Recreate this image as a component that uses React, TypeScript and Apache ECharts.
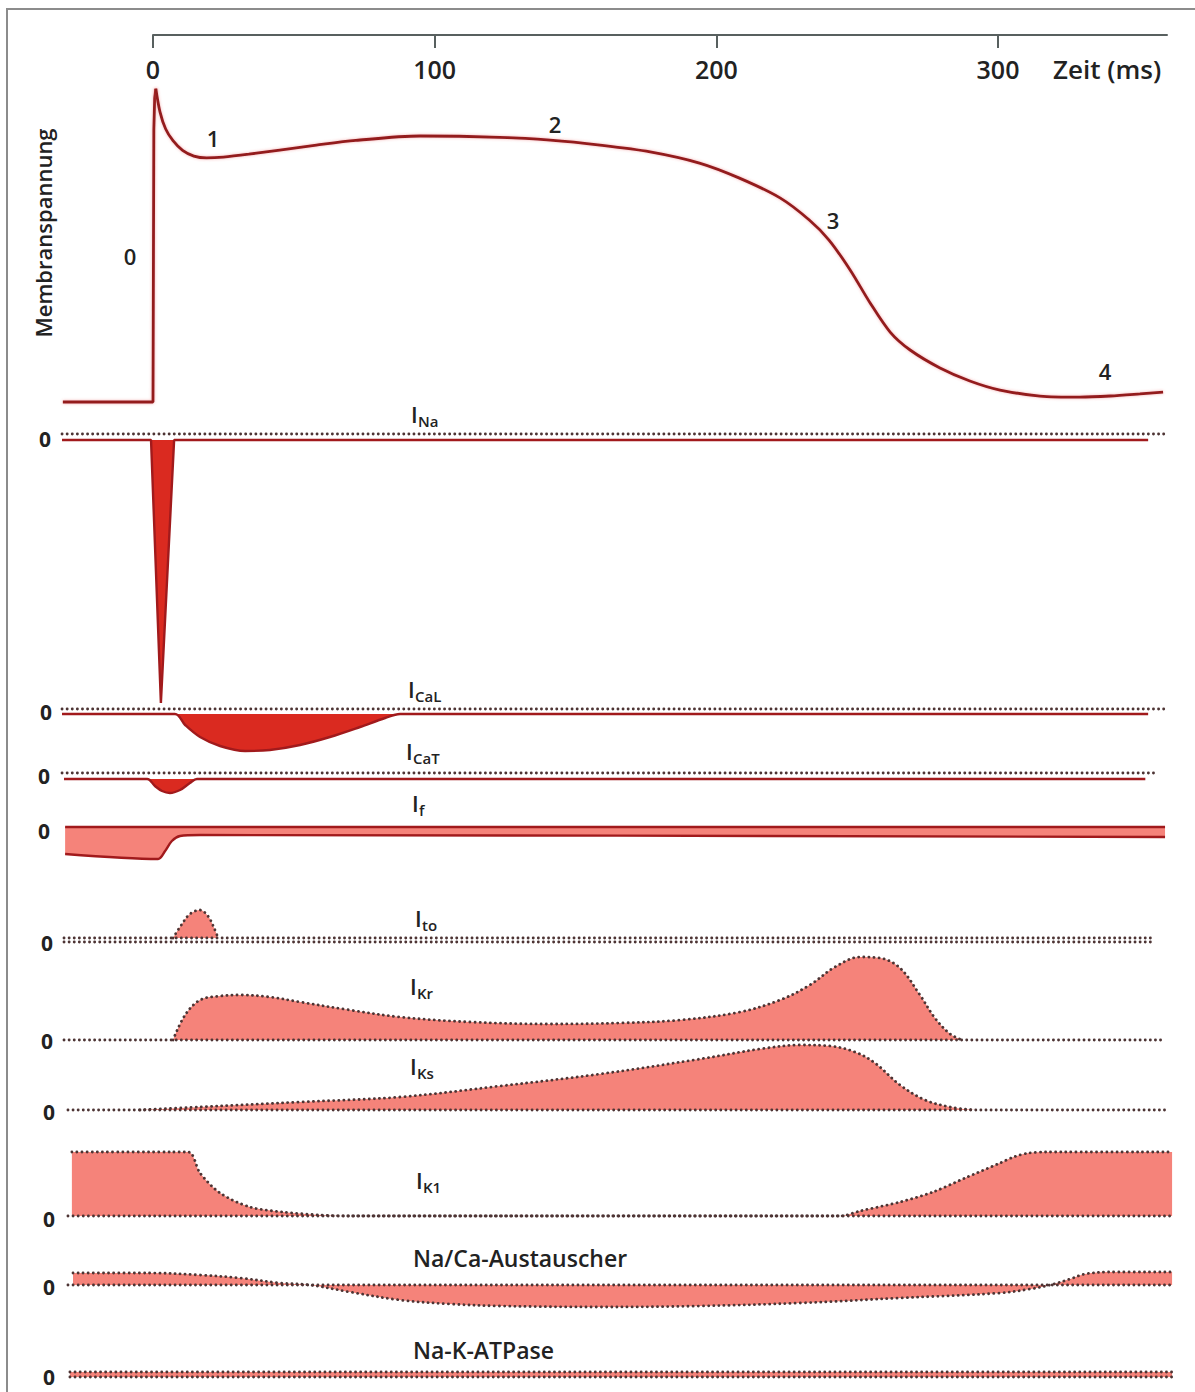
import React, { useEffect, useRef } from "react";
import * as echarts from "echarts";

// ---------- scale of the time axis ----------
const T0_PX = 153; // pixel of t = 0 ms
const PX_PER_MS = 2.8167;
const T_LEFT = -32.3;
const T_RIGHT = 362;
const AXIS_MAX = 360;
const axisTicks = [0, 100, 200, 300];

// ---------- data (time in ms, value) ----------
// membrane potential in mV
const apCurve: [number, number][] = [
  [-32, -85], [-1, -85], [0, -85], [0.3, 20], [0.6, 32], [1, 35.5], [2.5, 26.5], [4.5, 20],
  [7.1, 15.5], [10.5, 11.8], [14.5, 9.6], [19, 8.9], [25, 9.2], [34, 10.3], [45, 11.9],
  [58, 13.8], [72, 15.6], [94.8, 17.3], [123, 16.8], [141, 15.7], [158.7, 13.8], [176.5, 11.2],
  [194, 6.9], [208, 1.2], [222.6, -6.5], [233, -15], [240, -22.7], [247.5, -34.2], [254.6, -46.9],
  [261.7, -58.1], [268.8, -65], [279.4, -71.9], [290, -76.9], [300.7, -80.4], [314.9, -82.7],
  [329, -83.1], [339.8, -82.7], [350.4, -81.9], [358.6, -81.2],
];
const phaseLabels = ["0", "1", "2", "3", "4"];

// currents, relative units
const iNa: [number, number][] = [[-32.3, 0], [-0.7, 0], [2.8, -263], [7.5, 0], [353.3, 0]];
const iCaL: [number, number][] = [
  [-32.3, 0], [7.8, 0], [11.4, -11], [16.7, -23], [23.8, -32], [32.7, -37], [41.5, -36],
  [52.2, -31], [62.8, -23], [73.5, -13], [82.4, -4], [87.7, 0], [353.3, 0],
];
const iCaT: [number, number][] = [
  [-31.6, 0], [-2.1, 0], [0.7, -7], [3.2, -12], [6.0, -14], [9.6, -11], [13.1, -4], [15.6, 0], [352.3, 0],
];
const iF: [number, number][] = [
  [-31.2, -27], [1.8, -32], [4.3, -24], [6.7, -14], [9.6, -9], [16.7, -8], [359.3, -10],
];
const iTo: [number, number][] = [
  [7.1, 0], [10.3, 14], [13.1, 24], [16.7, 28], [19.5, 22], [21.7, 10], [23.1, 0],
];
const iKr: [number, number][] = [
  [7.1, 0], [11.4, 25], [16.7, 40], [23.8, 44], [30.9, 45], [41.5, 43], [52.2, 38], [69.9, 30],
  [87.7, 23], [112.5, 18], [140.9, 16], [165.8, 17], [187.1, 20], [208.4, 28], [222.6, 40],
  [233.2, 55], [242.1, 73], [251, 83], [258.1, 82], [265.2, 72], [272.3, 45], [277.6, 22],
  [283, 6], [287.2, 0],
];
const iKs: [number, number][] = [
  [-4.6, 0], [16.7, 3], [52.2, 8], [87.7, 13], [123.2, 24], [158.7, 36], [194.2, 51], [215.5, 61],
  [229.7, 65], [240.4, 64], [249.2, 58], [256.3, 47], [265.2, 25], [274.1, 10], [283, 3], [291.8, 0],
];
const iK1: [number, number][] = [
  [-28.8, 64], [12.4, 64], [16.7, 43], [23.8, 23], [34.4, 9], [46.2, 4], [59.3, 1], [69.9, 0],
  [243.9, 0], [251, 5], [265.2, 14], [276.9, 24], [288.3, 38], [300.7, 53], [306, 59.5],
  [311, 63], [317, 64], [361.8, 64],
];
const naCa: [number, number][] = [
  [-28.4, 12], [-1.1, 12], [16.7, 10], [30.9, 7], [45.1, 2], [55.7, 0], [69.9, -7], [87.7, -15],
  [105.4, -19], [123.2, -21], [158.7, -22], [194.2, -21], [229.7, -18], [265.2, -13], [300.7, -8],
  [311.4, -4], [318.5, 0], [325.6, 6], [330.9, 11], [339.8, 13], [361.8, 13],
];
const naK: [number, number][] = [[-29.5, 5], [361.8, 5]];

// ---------- colours ----------
const AP_RED = "#931a1f";
const DARK_RED = "#a11a1c";
const STRONG_RED = "#da2a20";
const SALMON = "#f5837a";
const DOT = "#4d3434";
const TEXT = "#222222";
const FONT = "'Open Sans', 'Noto Sans', sans-serif";

type Kind = "red" | "dot" | "band";
interface Panel {
  data: [number, number][];
  y0: number; // pixel of value 0
  min: number;
  max: number;
  kind: Kind;
  ref?: [number, number, number]; // reference line: t start, t end, level
  ref2?: [number, number, number];
  smooth: number;
  label: string;
  sub: string;
  lx: number;
  ly: number;
  zx: number;
  zy: number;
}

const panels: Panel[] = [
  { data: iNa, y0: 440, min: -270, max: 10, kind: "red", ref: [-32.3, 359.3, 6], smooth: 0, label: "I", sub: "Na", lx: 411, ly: 414, zx: 45, zy: 439 },
  { data: iCaL, y0: 714, min: -45, max: 10, kind: "red", ref: [-32.3, 359.3, 5], smooth: 0.35, label: "I", sub: "CaL", lx: 408, ly: 689, zx: 46, zy: 712 },
  { data: iCaT, y0: 779, min: -20, max: 10, kind: "red", ref: [-32.3, 356.5, 6], smooth: 0.35, label: "I", sub: "CaT", lx: 406, ly: 751, zx: 44, zy: 776 },
  { data: iF, y0: 827, min: -36, max: 6, kind: "band", ref: [-31.2, 359.3, 0], smooth: 0.3, label: "I", sub: "f", lx: 412, ly: 803, zx: 44, zy: 831 },
  { data: iTo, y0: 938, min: -8, max: 32, kind: "dot", ref: [-31.6, 355.8, 0], ref2: [-31.6, 355.8, -4], smooth: 0.35, label: "I", sub: "to", lx: 415, ly: 918, zx: 47, zy: 943 },
  { data: iKr, y0: 1040, min: -6, max: 88, kind: "dot", ref: [-31.6, 359.3, 0], smooth: 0.35, label: "I", sub: "Kr", lx: 410, ly: 986, zx: 47, zy: 1041 },
  { data: iKs, y0: 1110, min: -6, max: 70, kind: "dot", ref: [-30.2, 359.3, 0], smooth: 0.35, label: "I", sub: "Ks", lx: 410, ly: 1066, zx: 49, zy: 1112 },
  { data: iK1, y0: 1216, min: -6, max: 68, kind: "dot", ref: [-30.2, 361.8, 0], smooth: 0.3, label: "I", sub: "K1", lx: 416, ly: 1180, zx: 49, zy: 1219 },
  { data: naCa, y0: 1285, min: -26, max: 16, kind: "dot", ref: [-30.2, 361.8, 0], smooth: 0.35, label: "Na/Ca-Austauscher", sub: "", lx: 413, ly: 1258, zx: 49, zy: 1287 },
  { data: naK, y0: 1377, min: -6, max: 8, kind: "dot", ref: [-29.5, 361.8, 0], smooth: 0, label: "Na-K-ATPase", sub: "", lx: 413, ly: 1350, zx: 49, zy: 1377 },
];

const gridLeft = T0_PX + T_LEFT * PX_PER_MS;
const gridWidth = (T_RIGHT - T_LEFT) * PX_PER_MS;

function centered(text: string, size: number, weight: number) {
  return {
    text, fill: TEXT, fontFamily: FONT, fontWeight: weight, fontSize: size,
    textAlign: "center", textVerticalAlign: "middle", align: "center", verticalAlign: "middle",
  };
}
function leftText(text: string, size: number, weight: number) {
  return {
    text, fill: TEXT, fontFamily: FONT, fontWeight: weight, fontSize: size,
    textAlign: "left", textVerticalAlign: "middle", align: "left", verticalAlign: "middle",
  };
}

function buildOption() {
  const grids: any[] = [];
  const xAxes: any[] = [];
  const yAxes: any[] = [];
  const series: any[] = [];
  const graphic: any[] = [];

  const hiddenX = (gi: number, min: number, max: number) => ({
    type: "value", gridIndex: gi, min, max, show: false,
  });
  const hiddenY = (gi: number, min: number, max: number) => ({
    type: "value", gridIndex: gi, min, max, show: false,
  });

  // --- time axis (top) ---
  grids.push({ left: T0_PX, top: 35, width: AXIS_MAX * PX_PER_MS, height: 20 });
  xAxes.push({
    type: "value", gridIndex: 0, position: "top", min: 0, max: AXIS_MAX, interval: 100,
    axisLine: { show: true, onZero: false, lineStyle: { color: "#58605f", width: 2 } },
    axisTick: {
      show: true, inside: true, length: 13, customValues: axisTicks,
      lineStyle: { color: "#58605f", width: 2 },
    },
    axisLabel: {
      inside: true, margin: 21, color: TEXT, fontFamily: FONT, fontSize: 25, fontWeight: 600,
      customValues: axisTicks,
      formatter: (v: number) => (axisTicks.includes(v) ? String(v) : ""),
    },
    splitLine: { show: false },
  });
  yAxes.push(hiddenY(0, 0, 1));

  // --- membrane potential ---
  const mvMin = -85, mvMax = 35, pxPerMv = 2.6, mvZeroPx = 181;
  grids.push({
    left: gridLeft, width: gridWidth,
    top: mvZeroPx - mvMax * pxPerMv, height: (mvMax - mvMin) * pxPerMv,
  });
  xAxes.push(hiddenX(1, T_LEFT, T_RIGHT));
  yAxes.push(hiddenY(1, mvMin, mvMax));
  const apStyle = { color: AP_RED, width: 2.8, shadowColor: "rgba(230,80,80,0.45)", shadowBlur: 3 };
  const peakIdx = 5;
  series.push({
    type: "line", xAxisIndex: 1, yAxisIndex: 1, data: apCurve.slice(0, peakIdx + 1),
    showSymbol: false, clip: false, lineStyle: apStyle,
  });
  series.push({
    type: "line", xAxisIndex: 1, yAxisIndex: 1, data: apCurve.slice(peakIdx),
    showSymbol: false, clip: false, smooth: 0.3, lineStyle: apStyle,
  });

  // --- current panels ---
  panels.forEach((p, i) => {
    const gi = i + 2;
    grids.push({ left: gridLeft, width: gridWidth, top: p.y0 - p.max, height: p.max - p.min });
    xAxes.push(hiddenX(gi, T_LEFT, T_RIGHT));
    yAxes.push(hiddenY(gi, p.min, p.max));

    const dotted = { type: [0.1, 5], cap: "round", width: 2.8, color: DOT };

    const refs = [p.ref, p.ref2].filter(Boolean) as [number, number, number][];
    refs.forEach((r) => {
      series.push({
        type: "line", xAxisIndex: gi, yAxisIndex: gi, showSymbol: false, clip: false, silent: true,
        data: [[r[0], r[2]], [r[1], r[2]]],
        lineStyle: p.kind === "band" ? { color: DARK_RED, width: 2.6 } : dotted,
        z: 3,
      });
    });

    let lineStyle: any;
    let fill: string;
    if (p.kind === "red") {
      lineStyle = { color: DARK_RED, width: 2.4 };
      fill = STRONG_RED;
    } else if (p.kind === "band") {
      lineStyle = { color: DARK_RED, width: 2.4 };
      fill = SALMON;
    } else {
      lineStyle = dotted;
      fill = SALMON;
    }
    series.push({
      type: "line", xAxisIndex: gi, yAxisIndex: gi, data: p.data, showSymbol: false, clip: false,
      smooth: p.smooth,
      lineStyle, areaStyle: { color: fill, opacity: 1 }, z: 2,
    });

    graphic.push({ type: "text", x: p.zx, y: p.zy, style: centered("0", 21, 700) });
    if (p.sub) {
      graphic.push({ type: "text", x: p.lx, y: p.ly, style: leftText(p.label, 22, 600) });
      graphic.push({ type: "text", x: p.lx + 7, y: p.ly + 7, style: leftText(p.sub, 15, 600) });
    } else {
      graphic.push({ type: "text", x: p.lx, y: p.ly, style: leftText(p.label, 23, 600) });
    }
  });

  // phase labels of the action potential
  const phasePos: [number, number][] = [[130, 256], [213, 138], [555, 124], [833, 220], [1105, 371]];
  phaseLabels.forEach((t, i) => {
    graphic.push({ type: "text", x: phasePos[i][0], y: phasePos[i][1], style: centered(t, 22, 600) });
  });

  graphic.push({
    type: "text", x: 43, y: 233, rotation: Math.PI / 2, style: centered("Membranspannung", 22, 600),
  });
  graphic.push({ type: "text", x: 1053, y: 69, style: leftText("Zeit (ms)", 26, 600) });
  graphic.push({
    type: "rect", shape: { x: 7, y: 9, width: 1210, height: 1420 },
    style: { fill: "none", stroke: "#8c8c8c", lineWidth: 2 }, silent: true,
  });

  return {
    animation: false,
    backgroundColor: "#ffffff",
    grid: grids,
    xAxis: xAxes,
    yAxis: yAxes,
    series,
    graphic,
  };
}

export default function App() {
  const ref = useRef<HTMLDivElement>(null);
  useEffect(() => {
    if (!ref.current) return;
    const chart = echarts.init(ref.current, undefined, { renderer: "svg" });
    chart.setOption(buildOption() as any);
    return () => chart.dispose();
  }, []);
  return (
    <div
      ref={ref}
      style={{ position: "fixed", left: 0, top: 0, width: 1195, height: 1392, background: "#fff" }}
    />
  );
}
